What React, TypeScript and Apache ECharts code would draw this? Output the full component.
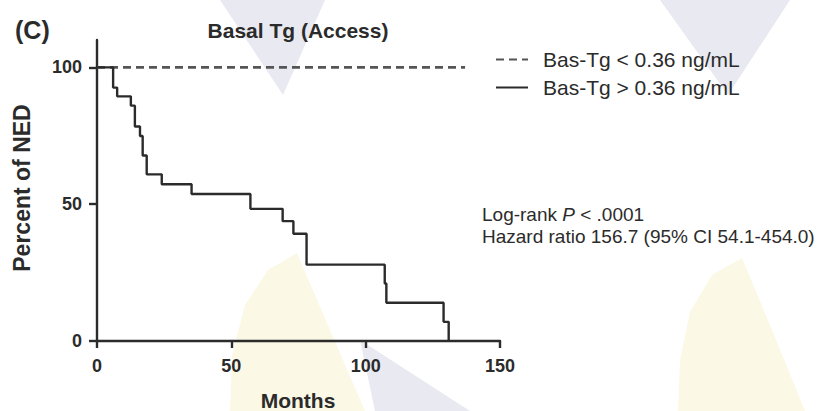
import React, { useEffect, useRef } from "react";
import * as echarts from "echarts";

// Kaplan-Meier data
const highMonths = [0, 6.0, 7.5, 12.6, 14.1, 16.0, 17.0, 18.5, 24.1, 35.2, 57.1, 69.1, 73.1, 78.0, 107.1, 107.7, 129.0, 130.9];
const highSurvival = [100, 92.6, 89.4, 86.0, 78.4, 74.9, 67.8, 60.9, 57.3, 53.7, 48.3, 43.8, 39.2, 27.9, 21.0, 14.0, 7.0, 0];
const lowMonths = [0, 137];
const lowSurvival = [100, 100];
const yTicks = [0, 50, 100];
const xTicks = [0, 50, 100, 150];
const seriesNames = ["Bas-Tg < 0.36 ng/mL", "Bas-Tg > 0.36 ng/mL"];
const titleText = "Basal Tg (Access)";
const panelLabel = "(C)";
const yName = "Percent of NED";
const xName = "Months";

const FONT = "'Liberation Sans', Arial, Helvetica, sans-serif";
const INK = "#2b2b2b";

export default function App() {
  const ref = useRef<HTMLDivElement>(null);
  useEffect(() => {
    if (!ref.current) return;
    const chart = echarts.init(ref.current, null, { renderer: "svg" });
    const lav = "#e9e9f1";
    const yel = "#fbf8e6";
    chart.setOption({
      animation: false,
      backgroundColor: "#ffffff",
      grid: { left: 97, right: 326, top: 40, bottom: 70, containLabel: false },
      xAxis: {
        type: "value",
        min: xTicks[0],
        max: xTicks[xTicks.length - 1],
        interval: 50,
        axisLine: { show: true, lineStyle: { color: INK, width: 2.4 } },
        axisTick: { show: true, length: 7, lineStyle: { color: INK, width: 2.4 } },
        axisLabel: { color: INK, fontSize: 18, fontWeight: "bold", fontFamily: FONT, margin: 16 },
        splitLine: { show: false },
      },
      yAxis: {
        type: "value",
        min: 0,
        max: 110,
        axisLine: { show: true, lineStyle: { color: INK, width: 2.4 } },
        axisTick: { show: true, length: 8, lineStyle: { color: INK, width: 2.4 }, customValues: yTicks },
        axisLabel: { color: INK, fontSize: 18, fontWeight: "bold", fontFamily: FONT, margin: 15, customValues: yTicks },
        splitLine: { show: false },
      },
      legend: {
        orient: "vertical",
        left: 495,
        top: 49,
        itemWidth: 32,
        itemHeight: 14,
        itemGap: 7,
        padding: 0,
        itemStyle: { opacity: 0 },
        textStyle: { fontSize: 21, fontFamily: FONT, color: INK, padding: [0, 0, 0, 10] },
        data: seriesNames,
      },
      series: [
        {
          name: seriesNames[0],
          type: "line",
          data: lowMonths.map((m, i) => [m, lowSurvival[i]]),
          showSymbol: false,
          symbol: "none",
          lineStyle: { color: "#555", width: 2.6, type: [8, 5] },
          itemStyle: { color: "#555" },
          z: 3,
        },
        {
          name: seriesNames[1],
          type: "line",
          step: "end",
          data: highMonths.map((m, i) => [m, highSurvival[i]]),
          showSymbol: false,
          symbol: "none",
          lineStyle: { color: INK, width: 2.4 },
          itemStyle: { color: INK },
          z: 4,
        },
      ],
      graphic: [
        // faint watermark shapes
        { type: "polygon", z: -10, silent: true, shape: { points: [[220, 0], [325, 0], [283, 95]] }, style: { fill: lav } },
        { type: "polygon", z: -10, silent: true, shape: { points: [[660, 0], [790, 0], [728, 95]] }, style: { fill: lav } },
        { type: "polygon", z: -10, silent: true, shape: { points: [[360, 340], [470, 411], [375, 411]] }, style: { fill: lav } },
        { type: "polygon", z: -9, silent: true, shape: { points: [[297, 253], [268, 270], [245, 305], [232, 355], [230, 411], [365, 411], [330, 330]] }, style: { fill: yel } },
        { type: "polygon", z: -9, silent: true, shape: { points: [[742, 258], [712, 275], [690, 312], [680, 360], [678, 411], [805, 411], [772, 330]] }, style: { fill: yel } },
        // texts
        { type: "text", x: 15, y: 30, style: { text: panelLabel, font: `bold 25px ${FONT}`, fill: INK, align: "left", verticalAlign: "middle" } },
        { type: "text", x: 298, y: 30, style: { text: titleText, font: `bold 21px ${FONT}`, fill: INK, align: "center", verticalAlign: "middle" } },
        { type: "text", x: 22, y: 188, rotation: Math.PI / 2, style: { text: yName, font: `bold 23px ${FONT}`, fill: INK, align: "center", verticalAlign: "middle" } },
        { type: "text", x: 298, y: 400, style: { text: xName, font: `bold 21px ${FONT}`, fill: INK, align: "center", verticalAlign: "middle" } },
        {
          type: "text", x: 482, y: 214,
          style: {
            text: "{a|Log-rank }{i|P}{a| < .0001}",
            align: "left", verticalAlign: "middle",
            rich: {
              a: { font: `19px ${FONT}`, fill: INK },
              i: { font: `italic 19px ${FONT}`, fill: INK },
            },
          },
        },
        { type: "text", x: 482, y: 236, style: { text: "Hazard ratio 156.7 (95% CI 54.1-454.0)", font: `19px ${FONT}`, fill: INK, align: "left", verticalAlign: "middle" } },
      ],
    });
    return () => chart.dispose();
  }, []);
  return <div ref={ref} style={{ position: "fixed", left: 0, top: 0, width: 826, height: 411, background: "#fff" }} />;
}
